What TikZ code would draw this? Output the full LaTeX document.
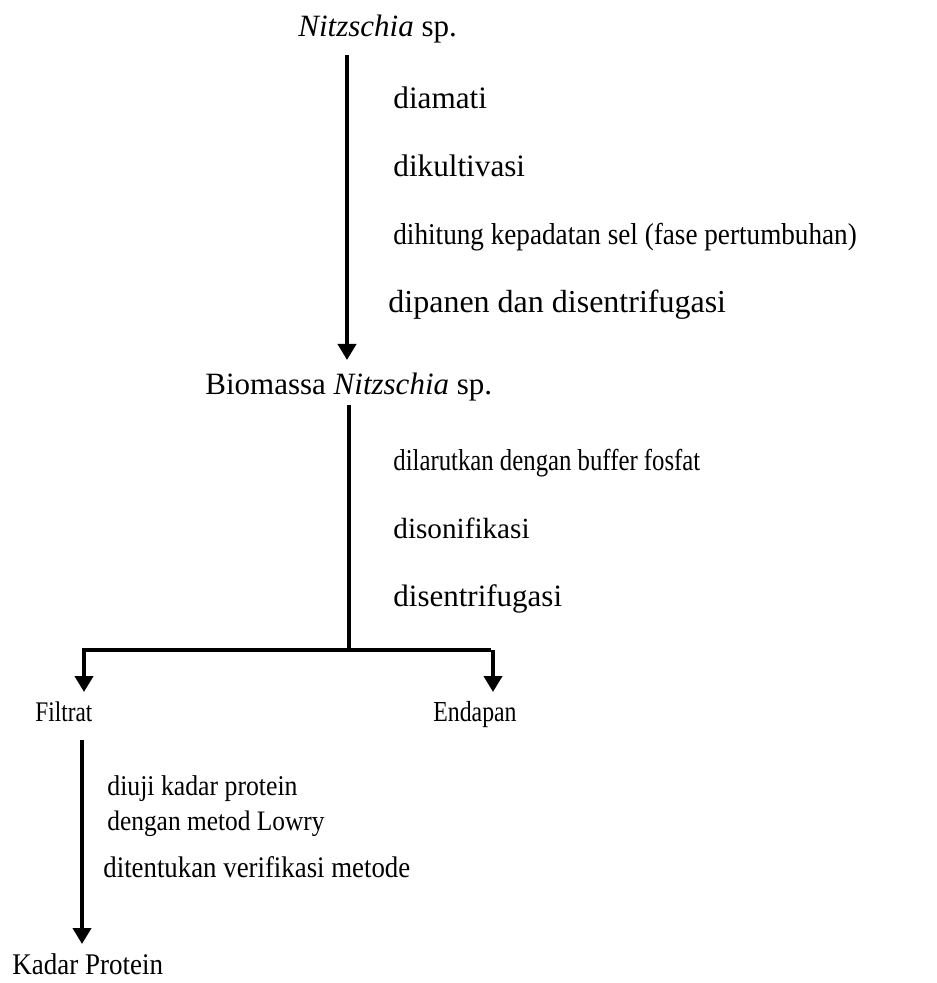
\documentclass[tikz,border=0pt]{standalone}
\usepackage{fontspec}
\setmainfont{Liberation Serif}
\newfontfamily\narrowA{Liberation Serif}[FakeStretch=0.82]
\newfontfamily\narrowB{Liberation Serif}[FakeStretch=0.9]
\usetikzlibrary{arrows.meta}
\tikzset{
  stage/.style={inner sep=0pt, anchor=base west},
  step label/.style={inner sep=0pt, anchor=base west},
  sz/.style={font=\fontsize{#1}{#1}\selectfont},
  nA/.style={font=\narrowA\fontsize{#1}{#1}\selectfont},
  nB/.style={font=\narrowB\fontsize{#1}{#1}\selectfont},
  flow/.style={line width=2.3pt, -{Triangle[length=8pt,width=9pt]}},
  trunk/.style={line width=2.3pt}
}
\begin{document}
\begin{tikzpicture}[x=0.5pt, y=-0.5pt]
                \useasboundingbox (0,0) rectangle (936,983);
                % stages
                \node[stage, sz=15.5] (culture) at (298,37) {\textit{Nitzschia} sp.};
                \node[stage, sz=15.5] (biomass) at (205,394) {Biomassa \textit{Nitzschia} sp.};
                \node[stage, nA=14.2] (filtrate) at (35,721) {Filtrat};
                \node[stage, nA=14.5] (sediment) at (433,721) {Endapan};
                \node[stage, nB=15] (protein) at (12,974) {Kadar Protein};
                % steps
                \node[step label, sz=15.6] (observe) at (393,109) {diamati};
                \node[step label, sz=15.6] (cultivate) at (393,177) {dikultivasi};
                \node[step label, nB=15.1] (count) at (393,245) {dihitung kepadatan sel (fase pertumbuhan)};
                \node[step label, sz=16] (harvest) at (388,313) {dipanen dan disentrifugasi};
                \node[step label, nA=15.1] (dissolve) at (393,470) {dilarutkan dengan buffer fosfat};
                \node[step label, sz=14.6] (sonicate) at (393,538) {disonifikasi};
                \node[step label, sz=15.5] (spin) at (393,606) {disentrifugasi};
                \node[step label, nB=14.3] (assay) at (107,795) {diuji kadar protein};
                \node[step label, nB=14.1] (lowry) at (107,830) {dengan metod Lowry};
                \node[step label, nB=14.9] (verify) at (103,877) {ditentukan verifikasi metode};
                % arrows
                \coordinate (c1) at (347,55);
                \coordinate (c2) at (347,360);
                \coordinate (b1) at (349,405);
                \coordinate (b2) at (349,650);
                \coordinate (fl) at (84,650);
                \coordinate (fr) at (493,650);
                \coordinate (fl2) at (84,692);
                \coordinate (fr2) at (493,692);
                \coordinate (f1) at (82,740);
                \coordinate (f2) at (82,944);
                \draw[flow] (c1) -- (c2);
                \draw[trunk] (b1) -- (b2);
                \draw[flow] ([xshift=-1.15pt]fr) -- (fl) -- (fl2);
                \draw[flow] (fr) -- (fr2);
                \draw[flow] (f1) -- (f2);
\end{tikzpicture}
\end{document}
